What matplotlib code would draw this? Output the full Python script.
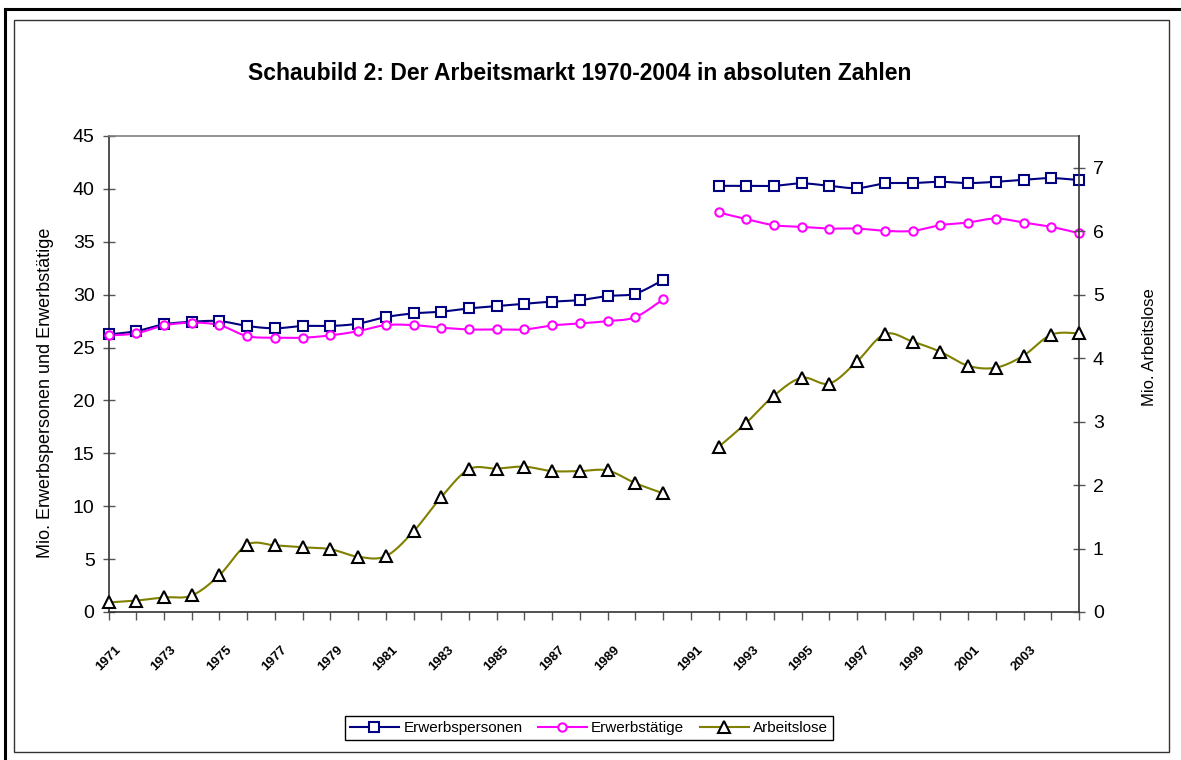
import numpy as np
import matplotlib
matplotlib.use("Agg")
import matplotlib.pyplot as plt
from matplotlib.lines import Line2D
from matplotlib.patches import Rectangle

plt.rcParams['font.family'] = ['Liberation Sans', 'DejaVu Sans']

# ---------------- data ----------------
years_west = list(range(1970, 1991))      # früheres Bundesgebiet
years_gesamt = list(range(1991, 2005))    # Deutschland

erwerbspersonen_west = [26.24, 26.55, 27.19, 27.44, 27.50, 27.04, 26.82, 27.04, 27.04, 27.26,
                        27.88, 28.23, 28.39, 28.70, 28.92, 29.15, 29.34, 29.49, 29.87, 30.10, 31.39]
erwerbstaetige_west = [26.15, 26.34, 27.09, 27.35, 27.12, 26.08, 25.93, 25.93, 26.15, 26.55,
                       27.12, 27.12, 26.88, 26.71, 26.71, 26.71, 27.09, 27.28, 27.50, 27.88, 29.56]
arbeitslose_west = [0.15, 0.18, 0.23, 0.26, 0.58, 1.06, 1.05, 1.02, 0.99, 0.87,
                    0.88, 1.27, 1.81, 2.25, 2.26, 2.29, 2.22, 2.22, 2.23, 2.03, 1.87]

erwerbspersonen_gesamt = [40.29, 40.29, 40.29, 40.52, 40.29, 40.07, 40.52, 40.55, 40.67, 40.55,
                          40.67, 40.86, 41.02, 40.83]
erwerbstaetige_gesamt = [37.77, 37.14, 36.57, 36.41, 36.25, 36.25, 36.03, 36.03, 36.57, 36.82,
                         37.20, 36.82, 36.41, 35.81]
arbeitslose_gesamt = [2.60, 2.98, 3.41, 3.69, 3.60, 3.95, 4.38, 4.26, 4.10, 3.88,
                      3.85, 4.04, 4.37, 4.39]

# category axis labels (one per category slot, blank where Excel skipped)
xtick_labels = ["1971", "", "1973", "", "1975", "", "1977", "", "1979", "",
                "1981", "", "1983", "", "1985", "", "1987", "", "1989", "",
                "", "1991", "", "1993", "", "1995", "", "1997", "", "1999",
                "", "2001", "", "2003", "", ""]

series_names = ["Erwerbspersonen", "Erwerbstätige", "Arbeitslose"]
colors = ["#000080", "#FF00FF", "#808000"]

# ---------------- helpers ----------------
def smooth(x, y, n=20):
    """Excel-like smoothed line (Catmull-Rom Bezier) through the data points."""
    x = np.asarray(x, float)
    y = np.asarray(y, float)
    N = len(x)
    px, py = [], []
    for i in range(N - 1):
        p0 = i - 1 if i > 0 else i
        p3 = i + 2 if i + 2 < N else i + 1
        c1x = x[i] + (x[i + 1] - x[p0]) / 6.0
        c1y = y[i] + (y[i + 1] - y[p0]) / 6.0
        c2x = x[i + 1] - (x[p3] - x[i]) / 6.0
        c2y = y[i + 1] - (y[p3] - y[i]) / 6.0
        t = np.linspace(0, 1, n, endpoint=(i == N - 2))
        a = (1 - t) ** 3
        b = 3 * (1 - t) ** 2 * t
        c = 3 * (1 - t) * t ** 2
        d = t ** 3
        px.append(a * x[i] + b * c1x + c * c2x + d * x[i + 1])
        py.append(a * y[i] + b * c1y + c * c2y + d * y[i + 1])
    return np.concatenate(px), np.concatenate(py)

# ---------------- figure ----------------
W, H = 1181, 760
fig = plt.figure(figsize=(W / 100, H / 100), dpi=100)
fig.patch.set_facecolor("white")

L, R, T, B = 108.5, 1079, 136, 612
ax = fig.add_axes([L / W, 1 - B / H, (R - L) / W, (B - T) / H])
ax2 = ax.twinx()

x_west = np.arange(len(years_west))
x_gesamt = len(years_west) + 1 + np.arange(len(years_gesamt))
n_cat = len(xtick_labels)

lw = 1.5
mk = dict(
    Erwerbspersonen=dict(marker="s", ms=7, mec=colors[0], mfc="white", mew=1.5),
    Erwerbstätige=dict(marker="o", ms=6, mec=colors[1], mfc="white", mew=1.5),
    Arbeitslose=dict(marker="^", ms=9, mec="black", mfc="white", mew=1.5),
)

for xs, ep, et in [(x_west, erwerbspersonen_west, erwerbstaetige_west),
                   (x_gesamt, erwerbspersonen_gesamt, erwerbstaetige_gesamt)]:
    sx, sy = smooth(xs, ep)
    ax.plot(sx, sy, color=colors[0], lw=lw, zorder=3)
    ax.plot(xs, ep, ls="none", zorder=4, clip_on=False, **mk["Erwerbspersonen"])
    sx, sy = smooth(xs, et)
    ax.plot(sx, sy, color=colors[1], lw=lw, zorder=3)
    ax.plot(xs, et, ls="none", zorder=4, clip_on=False, **mk["Erwerbstätige"])

for xs, al in [(x_west, arbeitslose_west), (x_gesamt, arbeitslose_gesamt)]:
    sx, sy = smooth(xs, al)
    ax2.plot(sx, sy, color=colors[2], lw=lw, zorder=3)
    ax2.plot(xs, al, ls="none", zorder=4, clip_on=False, **mk["Arbeitslose"])

ax.set_xlim(0, n_cat - 1)
ax.set_ylim(0, 45)
ax.set_yticks(np.arange(0, 46, 5))
ax2.set_ylim(0, 7.5)
ax2.set_yticks(np.arange(0, 8, 1))

ax.set_xticks(np.arange(n_cat))
ax.set_xticklabels(xtick_labels, rotation=45, ha="center", va="top",
                   fontsize=9.5, fontweight="bold")

tick_col = "#555555"
ax.tick_params(axis="x", direction="out", length=6, width=1, color=tick_col, pad=17)
ax.tick_params(axis="y", direction="inout", length=8, width=1, color=tick_col,
               labelsize=14, pad=6)
ax2.tick_params(axis="y", direction="inout", length=8, width=1, color=tick_col,
                labelsize=14, pad=6)

for s in ["left", "bottom"]:
    ax.spines[s].set_color("#333333")
    ax.spines[s].set_linewidth(1.2)
ax.spines["top"].set_color("#808080")
ax.spines["top"].set_linewidth(1.2)
ax.spines["right"].set_visible(False)
for s in ["left", "bottom", "top"]:
    ax2.spines[s].set_visible(False)
ax2.spines["right"].set_color("#333333")
ax2.spines["right"].set_linewidth(1.2)

# titles
fig.text(580 / W, 1 - 74 / H, "Schaubild 2: Der Arbeitsmarkt 1970-2004 in absoluten Zahlen",
         ha="center", va="center", fontsize=16.5, fontweight="bold")
fig.text(45 / W, 1 - 393 / H, "Mio. Erwerbspersonen und Erwerbstätige",
         rotation=90, ha="center", va="center", fontsize=13)
fig.text(1150 / W, 1 - 347 / H, "Mio. Arbeitslose",
         rotation=90, ha="center", va="center", fontsize=12)

# legend
handles = [
    Line2D([], [], color=colors[0], lw=lw, **mk["Erwerbspersonen"]),
    Line2D([], [], color=colors[1], lw=lw, **mk["Erwerbstätige"]),
    Line2D([], [], color=colors[2], lw=lw, **mk["Arbeitslose"]),
]
leg = fig.legend(handles, series_names, loc="center",
                 bbox_to_anchor=(589 / W, 1 - 728 / H), ncol=3, fontsize=11,
                 frameon=True, fancybox=False, edgecolor="black", framealpha=1,
                 handlelength=3.2, handletextpad=0.3, columnspacing=1.0,
                 borderpad=0.35, borderaxespad=0)
leg.get_frame().set_linewidth(1.0)

# chart area borders
fig.add_artist(Rectangle((14.5 / W, 1 - 752 / H), (1169 - 14.5) / W, (752 - 20) / H,
                         transform=fig.transFigure, fill=False,
                         edgecolor="#333333", lw=1.0))
fig.add_artist(Line2D([5 / W, 5 / W], [0, 1 - 9 / H], transform=fig.transFigure,
                      color="black", lw=2.2))
fig.add_artist(Line2D([5 / W, 1], [1 - 9 / H, 1 - 9 / H], transform=fig.transFigure,
                      color="black", lw=2.2))

fig.savefig("out.png", dpi=100)
